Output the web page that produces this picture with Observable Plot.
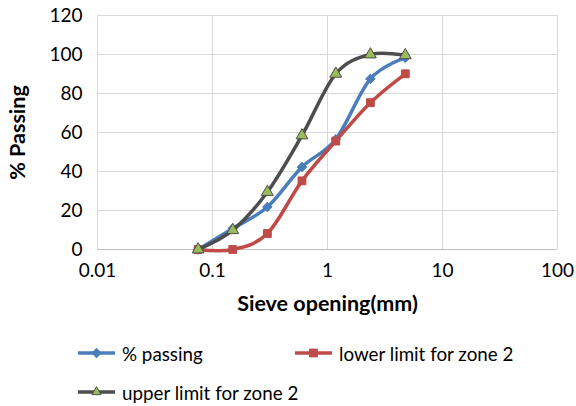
<!DOCTYPE html>
<html>
<head>
<meta charset="utf-8">
<script src="https://cdn.jsdelivr.net/npm/d3@7"></script>
<script src="https://cdn.jsdelivr.net/npm/@observablehq/plot@0.6"></script>
<style>
  html, body { margin: 0; padding: 0; background: #fff; }
  #wrap { position: relative; width: 576px; height: 406px; font-family: Lato, "Open Sans", sans-serif; }
  .leg { position: absolute; display: flex; align-items: center; font-size: 18.8px; color: #000; white-space: nowrap; }
  .leg svg { margin-right: 7px; }
</style>
</head>
<body>
<div id="wrap"></div>
<script>
// Data
const sieve = [0.075, 0.15, 0.3, 0.6, 1.18, 2.36, 4.75];
const passing = [0, 10.8, 21.8, 42.3, 56.5, 87.5, 98.3];
const lowerZone2 = [0, 0, 8.2, 35.2, 55.6, 75.3, 90.1];
const upperZone2 = [0, 9.9, 29.5, 58.5, 90.1, 100, 99.6];
const seriesNames = ["% passing", "lower limit for zone 2", "upper limit for zone 2"];
const xTicks = [0.01, 0.1, 1, 10, 100];
const yTicks = [0, 20, 40, 60, 80, 100, 120];

const styles = [
  {name: seriesNames[0], values: passing, stroke: "#4A7EBB", symbol: "diamond2", fill: "#4A7EBB", mstroke: "#4A7EBB", r: 4.3},
  {name: seriesNames[1], values: lowerZone2, stroke: "#BE4B48", symbol: "square", fill: "#BE4B48", mstroke: "#BE4B48", r: 4.4},
  {name: seriesNames[2], values: upperZone2, stroke: "#4D4D4D", symbol: "triangle", fill: "#9BBB59", mstroke: "#4D4D4D", r: 4.4}
];

const marks = [
  Plot.gridY(yTicks.filter(d => d > 0), {stroke: "#d9d9d9", strokeOpacity: 1, strokeWidth: 1}),
  Plot.gridX(xTicks, {stroke: "#d9d9d9", strokeOpacity: 1, strokeWidth: 1}),
  Plot.ruleY([0], {stroke: "#bfbfbf", strokeWidth: 1.2}),
  Plot.axisX({ticks: xTicks, tickSize: 0, tickPadding: 14, tickFormat: d => String(d), fontSize: 19, label: null}),
  Plot.axisY({ticks: yTicks, tickSize: 0, tickPadding: 15, fontSize: 19, label: null}),
  Plot.axisX({ticks: [], tickSize: 0, label: "Sieve opening(mm)", labelAnchor: "center", labelArrow: "none", labelOffset: 61, fontSize: 21.5, fontWeight: "bold"}),
  Plot.axisY({ticks: [], tickSize: 0, label: "% Passing", labelAnchor: "center", labelArrow: "none", labelOffset: 88, fontSize: 21.5, fontWeight: "bold"})
];
for (const s of styles) {
  const rows = sieve.map((x, i) => ({x, y: s.values[i]}));
  marks.push(Plot.line(rows, {x: "x", y: "y", stroke: s.stroke, strokeWidth: 3.5, curve: "cardinal", tension: 0}));
  marks.push(Plot.dot(rows, {x: "x", y: "y", symbol: s.symbol, r: s.r, fill: s.fill, stroke: s.mstroke, strokeWidth: 1}));
}

const chart = Plot.plot({
  width: 576,
  height: 325,
  marginLeft: 97,
  marginRight: 19,
  marginTop: 15,
  marginBottom: 76,
  style: {fontFamily: "Lato, 'Open Sans', sans-serif", color: "#000", background: "#fff", overflow: "visible"},
  x: {type: "log", domain: [0.01, 100]},
  y: {domain: [0, 120]},
  marks
});
const wrap = document.getElementById("wrap");
wrap.appendChild(chart);

// Legend
const legPos = [
  {left: 78, top: 343},
  {left: 295, top: 343},
  {left: 78, top: 382}
];
const symPath = {
  "diamond2": d3.symbol(d3.symbolDiamond2, 4.3 * 4.3 * Math.PI)(),
  "square": d3.symbol(d3.symbolSquare, 4.4 * 4.4 * Math.PI)(),
  "triangle": d3.symbol(d3.symbolTriangle2, 4.4 * 4.4 * Math.PI)()
};
styles.forEach((s, i) => {
  const div = document.createElement("div");
  div.className = "leg";
  div.style.left = legPos[i].left + "px";
  div.style.top = legPos[i].top + "px";
  div.style.height = "20px";
  div.innerHTML = `<svg width="37" height="20"><line x1="0" x2="37" y1="10" y2="10" stroke="${s.stroke}" stroke-width="3.5"/><path transform="translate(18.5,10)" d="${symPath[s.symbol]}" fill="${s.fill}" stroke="${s.mstroke}" stroke-width="1"/></svg><span>${s.name}</span>`;
  wrap.appendChild(div);
});
</script>
</body>
</html>
